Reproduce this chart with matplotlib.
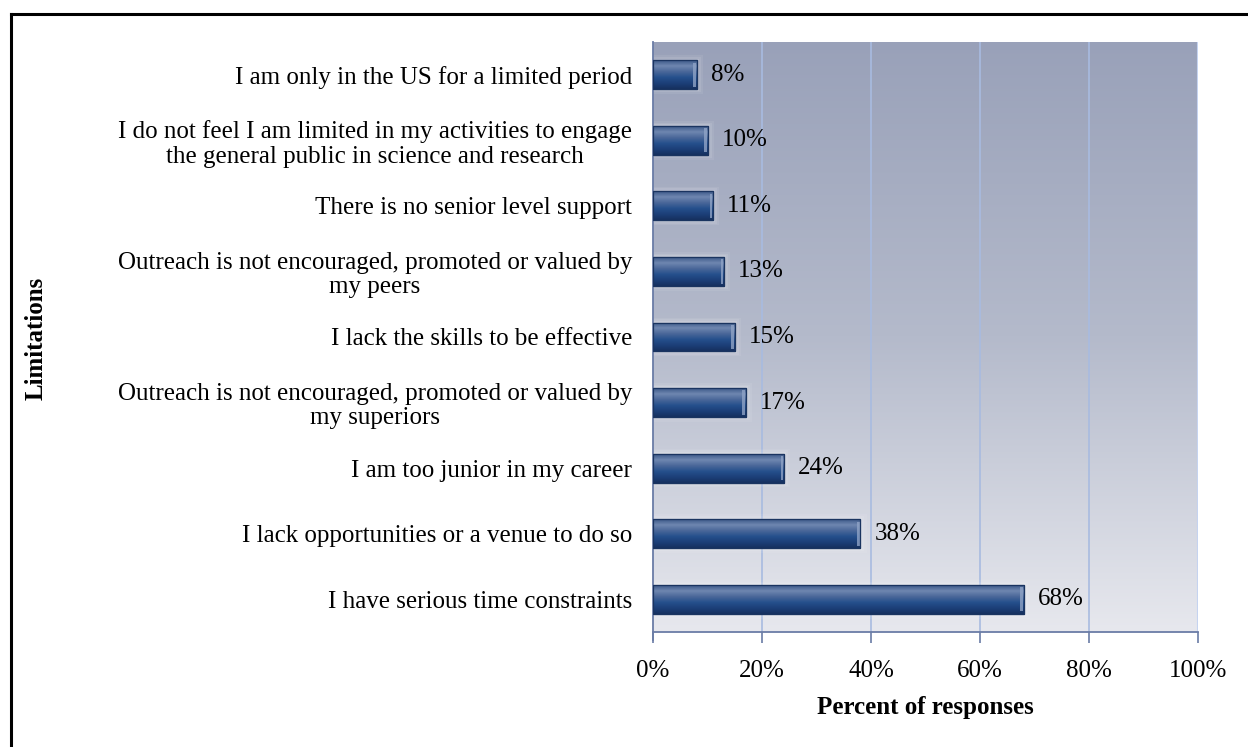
import numpy as np
import matplotlib
matplotlib.use("Agg")
import matplotlib.pyplot as plt
from matplotlib.colors import LinearSegmentedColormap
from matplotlib.patches import Rectangle

# Survey results: limitations on public engagement (bottom to top)
categories = [
    "I have serious time constraints",
    "I lack opportunities or a venue to do so",
    "I am too junior in my career",
    "Outreach is not encouraged, promoted or valued by\nmy superiors",
    "I lack the skills to be effective",
    "Outreach is not encouraged, promoted or valued by\nmy peers",
    "There is no senior level support",
    "I do not feel I am limited in my activities to engage\nthe general public in science and research",
    "I am only in the US for a limited period",
]
percents = [68, 38, 24, 17, 15, 13, 11, 10, 8]
x_ticks = [0, 20, 40, 60, 80, 100]
x_tick_labels = ["0%", "20%", "40%", "60%", "80%", "100%"]

plt.rcParams["font.family"] = ["Liberation Serif", "DejaVu Serif"]
FS = 18

W, H = 1248, 747
fig = plt.figure(figsize=(W / 100, H / 100), dpi=100)
fig.patch.set_facecolor("white")

# outer frame lines (top and left)
fig.add_artist(plt.Line2D([11 / W, 1.0], [1 - 14 / H, 1 - 14 / H], transform=fig.transFigure,
                          color="black", lw=2.2))
fig.add_artist(plt.Line2D([11 / W, 11 / W], [0, 1 - 14 / H], transform=fig.transFigure,
                          color="black", lw=2.2))

ax = fig.add_axes([653 / W, 1 - 632 / H, (1198 - 653) / W, (632 - 42) / H])

# gradient plot background
bg_cmap = LinearSegmentedColormap.from_list("bg", ["#e7e8ee", "#b4bacb", "#99a1b9"])
grad = np.linspace(0, 1, 256).reshape(-1, 1)
ax.imshow(grad, cmap=bg_cmap, aspect="auto", origin="lower",
          extent=[0, 1, 0, 1], transform=ax.transAxes, zorder=0)

ax.set_xlim(0, 100)
ax.set_ylim(-0.5, len(categories) - 0.5)

for xv in x_ticks[1:-1]:
    ax.axvline(xv, color="#a8bbe0", lw=1.2, zorder=1)
ax.axvline(100, color="#c5d3f0", lw=1.5, zorder=1)

ypos = np.arange(len(categories))
bar_h = 0.44
bars = ax.barh(ypos, percents, height=bar_h, color="#1f4079",
               edgecolor="#1a3460", linewidth=0.8, zorder=3)

# soft glow around bars
for b in bars:
    for k, a in [(3.0, 0.07), (2.0, 0.09), (1.0, 0.12)]:
        dx = k * 0.4
        dy = k * 0.025
        glow = Rectangle((b.get_x(), b.get_y() - dy), b.get_width() + dx, b.get_height() + 2 * dy,
                         facecolor="white", edgecolor="none", alpha=a, zorder=2)
        ax.add_patch(glow)

# vertical shading on each bar
bar_cmap = LinearSegmentedColormap.from_list(
    "barshade", ["#16305e", "#1c3f78", "#25508c", "#4a6799", "#6f87b0", "#3a5788"])
for b in bars:
    x0, y0, w, h = b.get_x(), b.get_y(), b.get_width(), b.get_height()
    im = ax.imshow(grad, cmap=bar_cmap, aspect="auto", origin="lower",
                   extent=[x0, x0 + w, y0, y0 + h], zorder=3.5)
    im.set_clip_path(b)
    # light end cap
    cap = Rectangle((x0 + w - 0.6, y0 + h * 0.08), 0.5, h * 0.84,
                    facecolor="#8fa3c6", edgecolor="none", alpha=0.8, zorder=3.8)
    ax.add_patch(cap)
    ax.add_patch(Rectangle((x0, y0), w, h, facecolor="none", edgecolor="#1a3460",
                           lw=0.9, zorder=3.9))
    ax.text(x0 + w + 2.6, y0 + h / 2, f"{int(round(w))}%", va="center", ha="left",
            fontsize=FS, color="black", zorder=5)

ax.set_yticks(ypos)
ax.set_yticklabels(categories, fontsize=FS, multialignment="center", linespacing=1.14)
ax.tick_params(axis="y", length=0, pad=15)

ax.set_xticks(x_ticks)
ax.set_xticklabels(x_tick_labels, fontsize=FS)
ax.tick_params(axis="x", direction="out", length=8, width=1.2, color="#6a7ca6", pad=12)

for side in ["top", "right"]:
    ax.spines[side].set_visible(False)
for side in ["left", "bottom"]:
    ax.spines[side].set_color("#6a7ca6")
    ax.spines[side].set_linewidth(1.3)
ax.spines["left"].set_bounds(-0.5 - 8 / 65.6, len(categories) - 0.5)

ax.set_xlabel("Percent of responses", fontsize=FS, fontweight="bold", labelpad=10)
fig.text(36 / W, 1 - 338 / H, "Limitations", rotation=90, fontsize=FS, fontweight="bold",
         ha="center", va="center")

fig.savefig("out.png", dpi=100)
